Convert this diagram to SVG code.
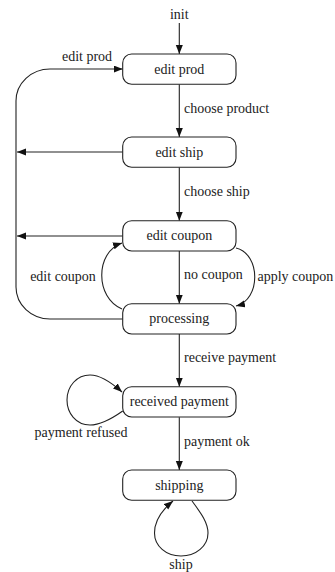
<svg xmlns="http://www.w3.org/2000/svg" width="335" height="572" viewBox="0 0 335 572">
<style>
text{font-family:"Liberation Serif","DejaVu Serif",serif;font-size:14px;fill:#222}
.n rect{fill:#fff;stroke:#222;stroke-width:1.1}
.n text{text-anchor:middle}
.c path{fill:none;stroke:#222;stroke-width:1.1}
.m{text-anchor:middle}
</style>
<defs>
<marker id="a" markerUnits="userSpaceOnUse" markerWidth="10" markerHeight="8" refX="9" refY="3.5" orient="auto">
<path d="M0,0 L9,3.5 L0,7 z" fill="#111"/>
</marker>
</defs>
<g class="c" id="connectors">
<path d="M179.3,23 L179.3,54" marker-end="url(#a)"/>
<path d="M179.3,84.3 L179.3,137" marker-end="url(#a)"/>
<path d="M179.3,167.3 L179.3,220.7" marker-end="url(#a)"/>
<path d="M179.3,251 L179.3,303.7" marker-end="url(#a)"/>
<path d="M179.3,334 L179.3,386.7" marker-end="url(#a)"/>
<path d="M179.3,417.3 L179.3,470" marker-end="url(#a)"/>
<path d="M122.7,319 L50,319 A34,32 0 0 1 16,287 L16,101 A34,32 0 0 1 50,69 L122.7,69" marker-end="url(#a)"/>
<path d="M122.7,152 L17,152" marker-end="url(#a)"/>
<path d="M122.7,236 L17,236" marker-end="url(#a)"/>
<path d="M122,309 C95,298 95,252 122,243" marker-end="url(#a)"/>
<path d="M236,248 C261,254 261,300 236,306" marker-end="url(#a)"/>
<path d="M122.7,411 C110,420 100,425 90,425 C76,425 67,413 67,400 C67,386 77,375 90,375 C100,375 112,383 122,392" marker-end="url(#a)"/>
<path d="M192,501 C200,512 208,522 208,533 C208,546 196,556 181,556 C166,556 154.5,546 154.5,533 C154.5,520 162,510 173,501" marker-end="url(#a)"/>
</g>
<g id="labels">
<text class="m" x="179.3" y="19">init</text>
<text class="m" x="87" y="61">edit prod</text>
<text x="184" y="113">choose product</text>
<text x="184" y="196">choose ship</text>
<text x="184" y="279">no coupon</text>
<text class="m" x="63" y="281">edit coupon</text>
<text x="257.5" y="281">apply coupon</text>
<text x="184" y="362">receive payment</text>
<text class="m" x="81" y="437">payment refused</text>
<text x="184" y="446">payment ok</text>
<text class="m" x="181" y="569">ship</text>
</g>
<g class="n" id="edit-prod"><rect x="122.7" y="54" width="113.3" height="30.3" rx="9"/><text x="179.3" y="73.5">edit prod</text></g>
<g class="n" id="edit-ship"><rect x="122.7" y="137" width="113.3" height="30.3" rx="9"/><text x="179.3" y="156.5">edit ship</text></g>
<g class="n" id="edit-coupon"><rect x="122.7" y="220.7" width="113.3" height="30.3" rx="9"/><text x="179.3" y="240.3">edit coupon</text></g>
<g class="n" id="processing"><rect x="122.7" y="303.7" width="113.3" height="30.3" rx="9"/><text x="179.3" y="323.3">processing</text></g>
<g class="n" id="received-payment"><rect x="122.7" y="386.7" width="113.3" height="30.3" rx="9"/><text x="179.3" y="406.3">received payment</text></g>
<g class="n" id="shipping"><rect x="122.7" y="470" width="113.3" height="30.3" rx="9"/><text x="179.3" y="489.6">shipping</text></g>
</svg>
